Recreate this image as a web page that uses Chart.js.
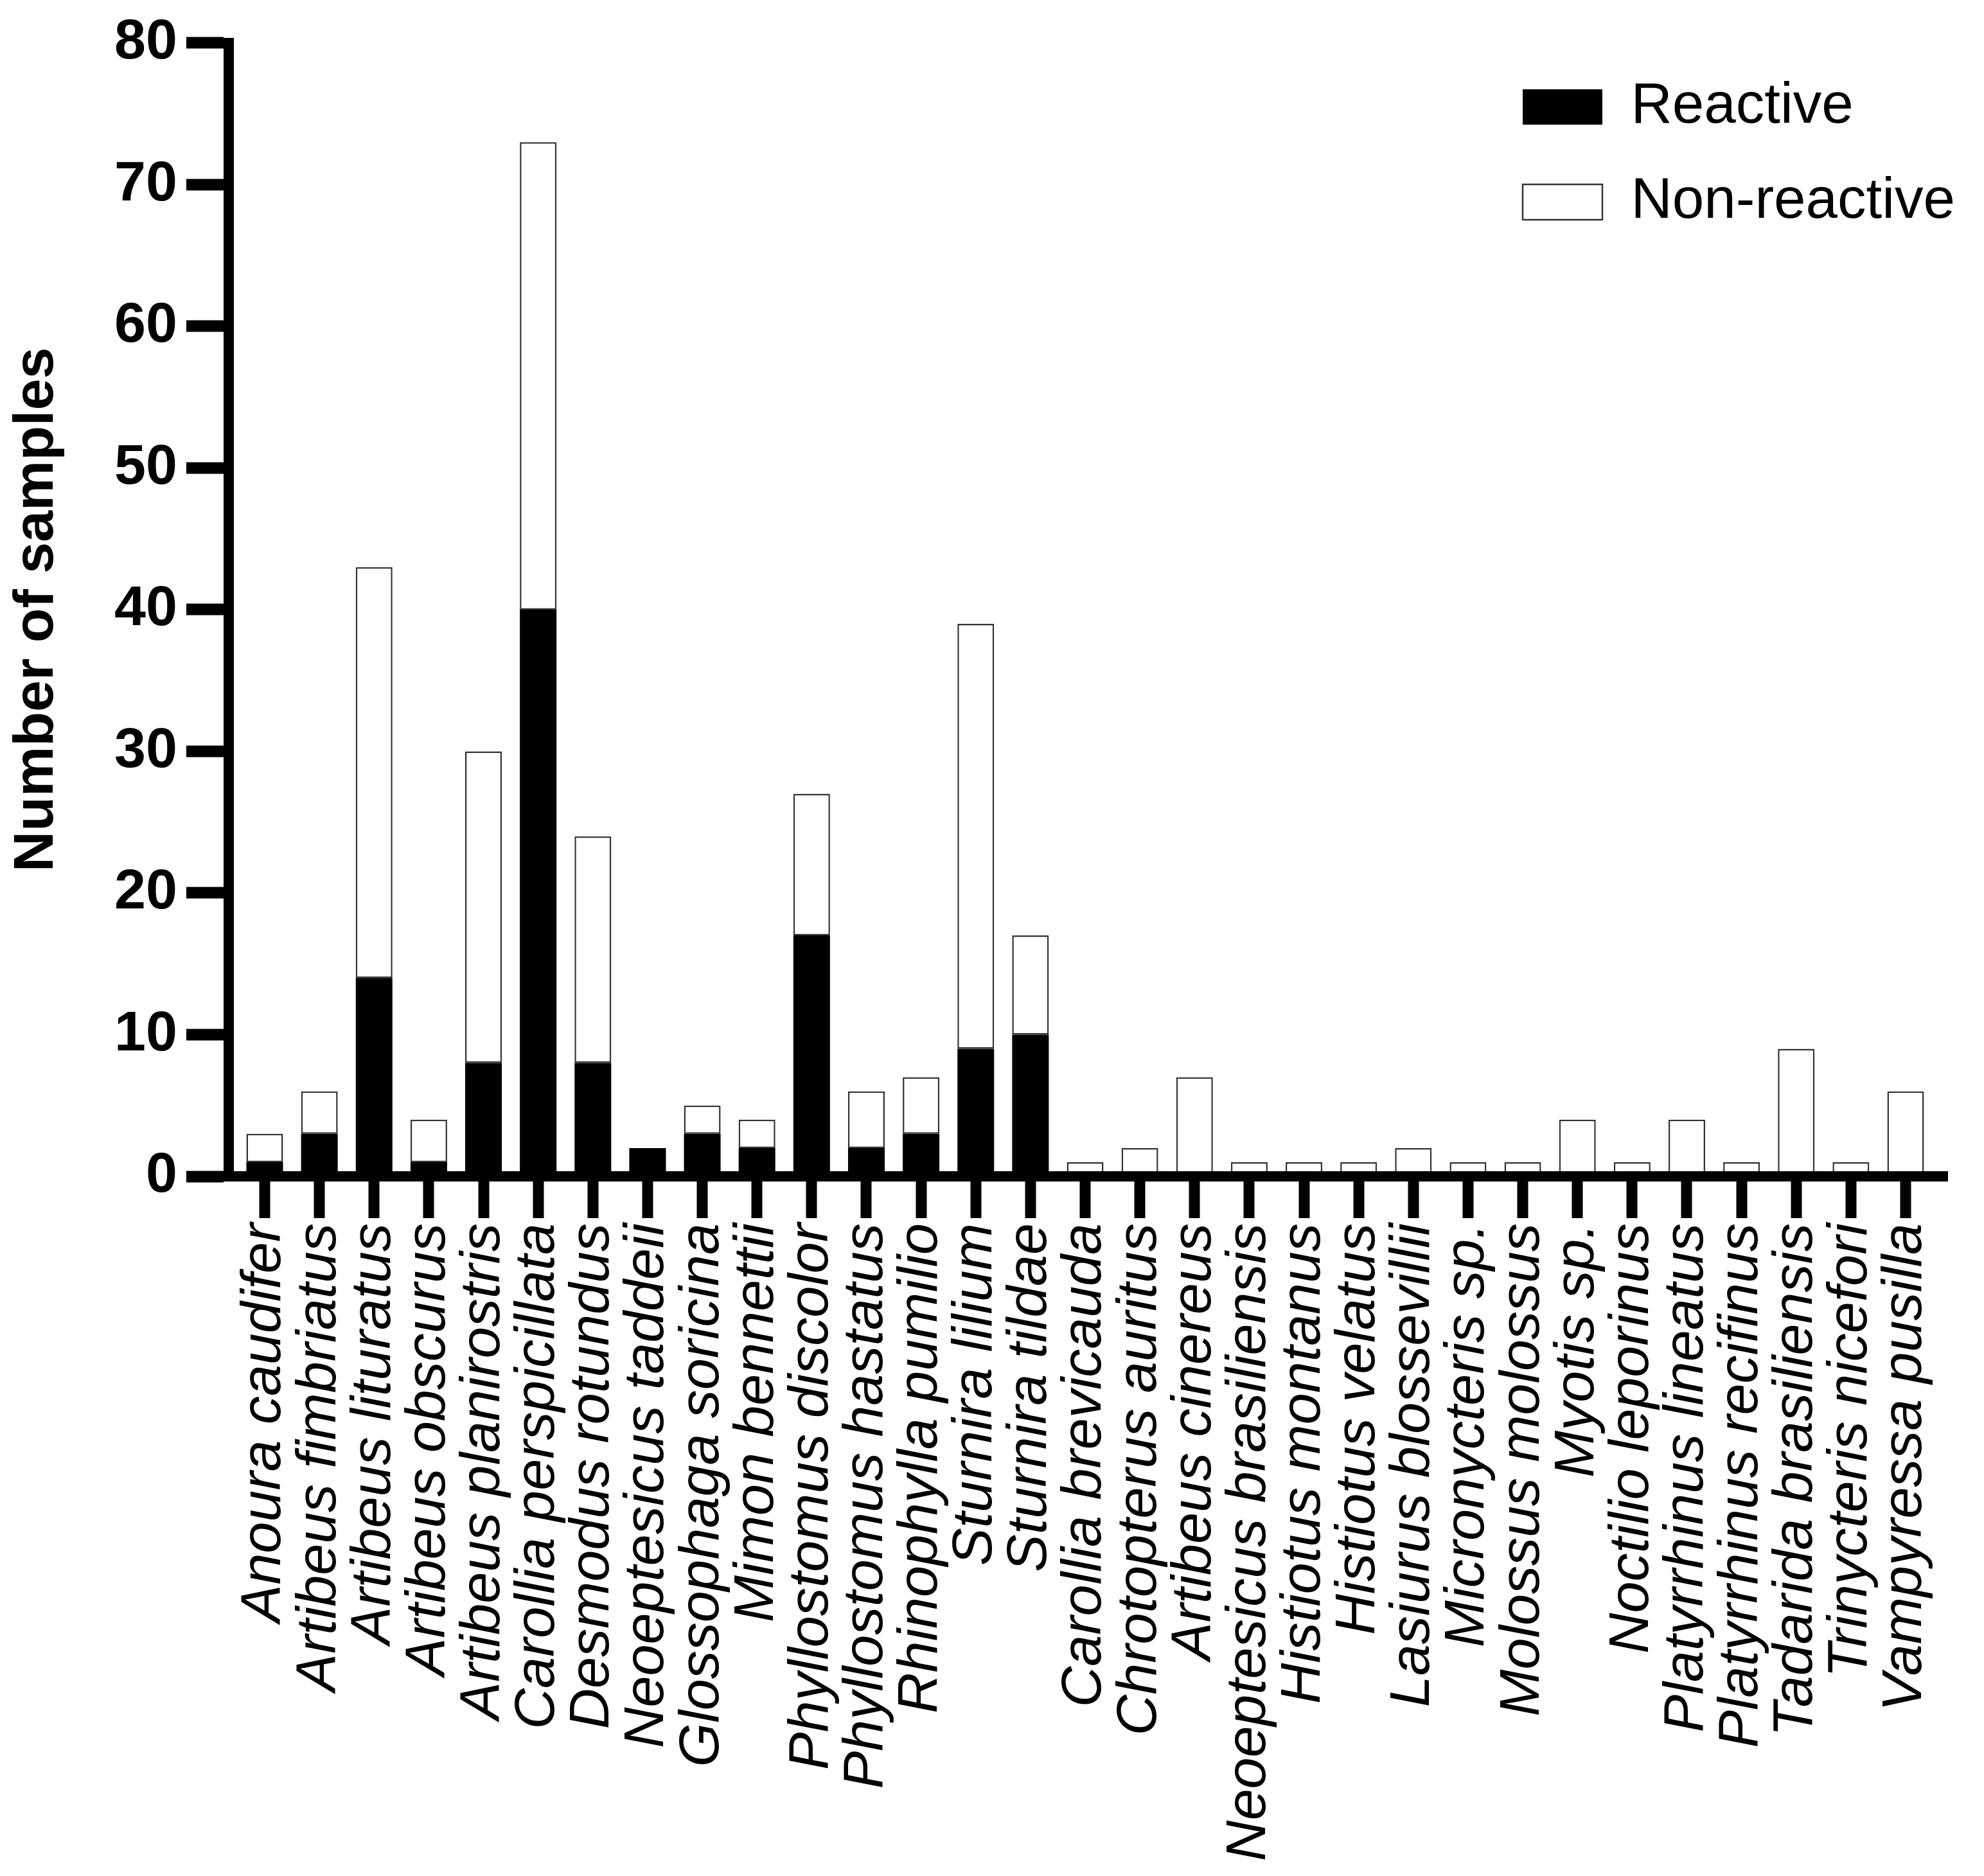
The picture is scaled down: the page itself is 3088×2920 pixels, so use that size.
<!DOCTYPE html>
<html>
<head>
<meta charset="utf-8">
<title>Number of samples per bat species</title>
<script src="https://cdn.jsdelivr.net/npm/chart.js@4.4.1/dist/chart.umd.min.js"></script>
<style>
  html, body { margin: 0; padding: 0; background: #fff; }
  #chart { display: block; width: 3088px; height: 2920px; }
</style>
</head>
<body>
<canvas id="chart" width="3088" height="2920"></canvas>
<script>
// categories
const species = [
  'Anoura caudifer', 'Artibeus fimbriatus', 'Artibeus lituratus', 'Artibeus obscurus',
  'Artibeus planirostris', 'Carollia perspicillata', 'Desmodus rotundus', 'Neoeptesicus taddeii',
  'Glossophaga soricina', 'Mimon bennettii', 'Phyllostomus discolor', 'Phyllostomus hastatus',
  'Rhinophylla pumilio', 'Sturnira lilium', 'Sturnira tildae', 'Carollia brevicauda',
  'Chrotopterus auritus', 'Artibeus cinereus', 'Neoeptesicus brasiliensis', 'Histiotus montanus',
  'Histiotus velatus', 'Lasiurus blossevillii', 'Micronycteris sp.', 'Molossus molossus',
  'Myotis sp.', 'Noctilio leporinus', 'Platyrrhinus lineatus', 'Platyrrhinus recifinus',
  'Tadarida brasiliensis', 'Trinycteris nicefori', 'Vampyressa pusilla'
];

// series
const reactive    = [1, 3, 14, 1, 8, 40, 8, 2, 3, 2, 17, 2, 3, 9, 10, 0, 0, 0, 0, 0, 0, 0, 0, 0, 0, 0, 0, 0, 0, 0, 0];
const nonReactive = [2, 3, 29, 3, 22, 33, 16, 0, 2, 2, 10, 4, 4, 30, 7, 1, 2, 7, 1, 1, 1, 2, 1, 1, 4, 1, 4, 1, 9, 1, 6];

// y axis ticks
const yMin = 0;
const yMax = 80;
const yStep = 10;

const FONT = "'Liberation Sans', Arial, Helvetica, sans-serif";
Chart.defaults.font.family = FONT;
Chart.defaults.color = '#000';

// plot frame (canvas px)
const AREA_LEFT = 356, AREA_TOP = 55, AREA_RIGHT = 3024, AREA_BOTTOM = 1831;
// first / last category centre, the bars do not touch the axes ends
const FIRST_CENTER = 412, LAST_CENTER = 2966;

// put the legend inside the plot, top right
const legendPlacer = {
  id: 'legendPlacer',
  afterLayout(chart) {
    const lg = chart.legend;
    if (!lg) return;
    const w = lg.width;
    lg.left = 2311;
    lg.top = 63;
    lg.right = lg.left + w;
    lg.bottom = chart.chartArea.bottom;
    lg.height = lg.bottom - lg.top;
  }
};

new Chart(document.getElementById('chart'), {
  type: 'bar',
  data: {
    labels: species,
    datasets: [
      {
        label: 'Reactive',
        data: reactive,
        backgroundColor: '#000',
        borderColor: '#000',
        borderWidth: 0,
      },
      {
        label: 'Non-reactive',
        data: nonReactive,
        backgroundColor: '#fff',
        borderColor: '#333',
        borderWidth: 2.5,
        borderSkipped: false,
      },
    ],
  },
  options: {
    responsive: false,
    animation: false,
    devicePixelRatio: 1,
    barPercentage: 0.67,
    categoryPercentage: 1,
    layout: {
      padding: { left: 0, top: AREA_TOP, right: 3088 - AREA_RIGHT, bottom: 0 },
    },
    plugins: {
      tooltip: { enabled: false },
      legend: {
        position: 'chartArea',
        align: 'start',
        labels: {
          boxWidth: 124,
          boxHeight: 55,
          padding: 59,
          color: '#000',
          font: { size: 89 },
        },
      },
    },
    scales: {
      x: {
        stacked: true,
        offset: true,
        grid: {
          display: true,
          offset: false,
          drawOnChartArea: false,
          drawTicks: true,
          tickLength: 65,
          tickWidth: 17,
          tickColor: '#000',
          lineWidth: 16,
        },
        border: { display: true, color: '#000', width: 16, z: 1 },
        ticks: {
          autoSkip: false,
          minRotation: 90,
          maxRotation: 90,
          padding: 8,
          color: '#000',
          font: { size: 88, style: 'italic' },
        },
        afterBuildTicks(scale) {
          // stretch the category band so centres land where the original puts them
          const w = AREA_RIGHT - AREA_LEFT;
          const n = species.length - 1;
          const range = n * w / (LAST_CENTER - FIRST_CENTER);
          if (typeof scale._startValue === 'number') {
            scale._valueRange = range;
            scale._startValue = -(FIRST_CENTER - AREA_LEFT) / w * range;
          }
        },
        afterFit(scale) {
          scale.height = 2920 - AREA_BOTTOM;
        },
      },
      y: {
        stacked: true,
        min: yMin,
        max: yMax,
        grid: {
          display: true,
          drawOnChartArea: false,
          drawTicks: true,
          tickLength: 66,
          tickWidth: 18,
          tickColor: '#000',
        },
        border: { display: true, color: '#000', width: 16, z: 1 },
        ticks: {
          stepSize: yStep,
          padding: 14,
          color: '#000',
          font: { size: 88, weight: 'bold' },
        },
        title: {
          display: true,
          text: 'Number of samples',
          color: '#000',
          padding: { top: 5, bottom: 0 },
          font: { size: 88, weight: 'bold' },
        },
        afterFit(scale) {
          scale.width = AREA_LEFT;
        },
      },
    },
  },
  plugins: [legendPlacer],
});
</script>
</body>
</html>
